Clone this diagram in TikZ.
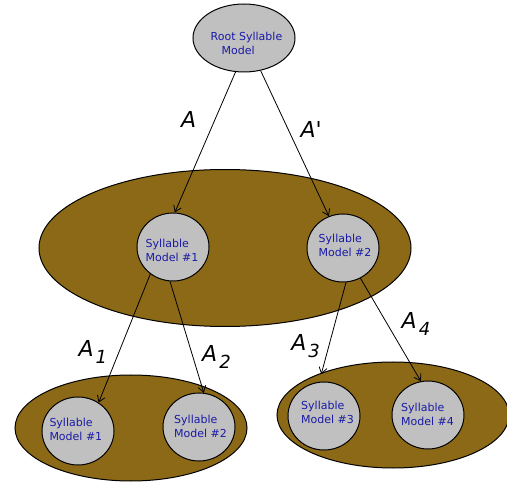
\documentclass[tikz,border=0pt]{standalone}
\usepackage{fontspec}
\setmainfont{DejaVu Sans}
\newfontfamily\lblfont{DejaVu Sans}[Ligatures=TeXOff]
\usetikzlibrary{shapes.geometric,arrows.meta}
\definecolor{brownfill}{RGB}{139,105,22}
\definecolor{greyfill}{RGB}{192,192,192}
\definecolor{txtblue}{RGB}{26,26,166}
\newcommand\Asub[1]{A\kern2pt\raisebox{-7pt}{\fontsize{18}{18}\selectfont #1}}
\begin{document}
\begin{tikzpicture}[x=1pt,y=-1pt,
  grp/.style={ellipse, draw=black, line width=1pt, fill=brownfill, inner sep=0pt},
  syl/.style={ellipse, draw=black, line width=1pt, fill=greyfill, inner sep=0pt, minimum width=72pt, minimum height=68pt},
  txt/.style={text=txtblue, align=left, font=\fontsize{11}{14}\selectfont, inner sep=0pt, anchor=base west},
  lbl/.style={font=\lblfont\itshape\fontsize{22}{22}\selectfont, inner sep=0pt, anchor=base west},
  arr/.style={-{Straight Barb[length=6pt,width=8pt]}, line width=0.8pt}]
\useasboundingbox (0,0) rectangle (507,484);
% group ellipses
\node[grp, minimum width=372pt, minimum height=157pt] (mid) at (225,248) {};
\node[grp, minimum width=232pt, minimum height=106pt] (gl) at (131,428) {};
\node[grp, minimum width=232pt, minimum height=106pt] (gr) at (393,415) {};
% syllable models
\node[syl, minimum width=102pt] (root) at (244,38) {};
\node[syl] (m1) at (173,247) {};
\node[syl] (m2) at (343,248) {};
\node[syl] (b1) at (78,431) {};
\node[syl] (b2) at (199,427) {};
\node[syl] (b3) at (324,416) {};
\node[syl] (b4) at (428,415) {};
% texts (anchor = baseline of last line)
\node[txt] (roott) at (210.5,54.3) {Root Syllable\\\hspace*{11pt}Model};
\node[txt] (m1t) at (145.5,261.7) {Syllable\\Model \#1};
\node[txt] (m2t) at (318.5,256.7) {Syllable\\Model \#2};
\node[txt] (b1t) at (49.3,440) {Syllable\\Model \#1};
\node[txt] (b2t) at (174,437.3) {Syllable\\Model \#2};
\node[txt] (b3t) at (301,424) {Syllable\\Model \#3};
\node[txt] (b4t) at (401,425) {Syllable\\Model \#4};
% connectors
\draw[arr] (root.256) -- (m1.87);
\draw[arr] (root.297) -- (m2.114);
\draw[arr] (m1.230) -- (b1.54);
\draw[arr] (m1.265) -- (b2.82);
\draw[arr, shorten >=8pt] (m2.275) -- (b3.98);
\draw[arr] (m2.300) -- (b4.102);
% labels
\node[lbl] (la) at (181,127.3) {A};
\node[lbl] (lap) at (300.5,137.3) {A'};
\node[lbl] (la1) at (78.5,356.7) {\Asub{1}};
\node[lbl] (la2) at (202,361.7) {\Asub{2}};
\node[lbl] (la3) at (291.2,351) {\Asub{3}};
\node[lbl] (la4) at (401.5,329) {\Asub{4}};
\end{tikzpicture}
\end{document}
